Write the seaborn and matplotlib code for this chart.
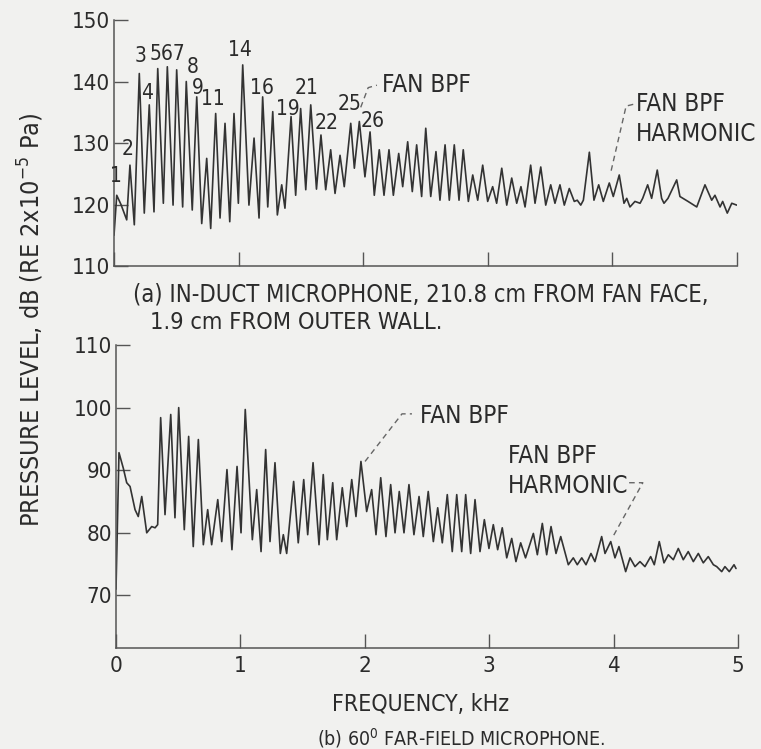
import matplotlib
matplotlib.use("Agg")
import matplotlib.pyplot as plt
import seaborn as sns
import pandas as pd

# ---------------- data ----------------
# (a) in-duct microphone: frequency (kHz) and level (dB)
freq_a = [0.000, 0.022, 0.056, 0.102, 0.128, 0.163, 0.203, 0.243, 0.283, 0.321,
          0.351, 0.396, 0.428, 0.474, 0.503, 0.551, 0.580, 0.628, 0.664, 0.704,
          0.744, 0.776, 0.816, 0.851, 0.891, 0.929, 0.963, 0.998, 1.033, 1.083,
          1.124, 1.164, 1.193, 1.234, 1.274, 1.311, 1.346, 1.372, 1.421, 1.458,
          1.498, 1.539, 1.579, 1.625, 1.661, 1.699, 1.739, 1.774, 1.814, 1.848,
          1.900, 1.929, 1.969, 2.014, 2.055, 2.089, 2.129, 2.167, 2.207, 2.242,
          2.285, 2.317, 2.357, 2.394, 2.429, 2.469, 2.502, 2.542, 2.584, 2.616,
          2.657, 2.691, 2.731, 2.769, 2.803, 2.844, 2.879, 2.919, 2.959, 2.999,
          3.039, 3.071, 3.112, 3.152, 3.192, 3.232, 3.266, 3.299, 3.344, 3.379,
          3.425, 3.465, 3.505, 3.539, 3.579, 3.614, 3.654, 3.694, 3.718, 3.746,
          3.767, 3.815, 3.852, 3.890, 3.927, 3.975, 4.007, 4.055, 4.093, 4.115,
          4.141, 4.181, 4.222, 4.243, 4.283, 4.315, 4.360, 4.395, 4.414, 4.446,
          4.516, 4.542, 4.607, 4.677, 4.743, 4.797, 4.823, 4.864, 4.885, 4.922,
          4.958, 4.998]
level_a = [115.0, 121.5, 120.0, 117.5, 126.4, 116.7, 141.3, 118.6, 136.2, 118.8,
           142.1, 120.2, 142.4, 119.9, 141.9, 119.6, 140.0, 119.1, 137.5, 116.9,
           127.5, 116.1, 134.8, 117.8, 133.2, 117.2, 134.8, 120.2, 142.7, 119.9,
           130.8, 117.8, 137.5, 119.6, 135.1, 118.3, 123.2, 119.4, 134.3, 121.5,
           135.6, 122.4, 136.2, 122.5, 131.3, 122.4, 128.9, 121.8, 128.0, 122.9,
           133.2, 125.9, 133.5, 124.5, 131.8, 121.5, 128.9, 121.5, 128.9, 121.5,
           128.3, 122.9, 130.2, 122.1, 129.7, 121.3, 132.4, 121.3, 128.6, 120.7,
           129.7, 120.7, 129.7, 120.7, 128.9, 120.5, 124.8, 120.7, 126.4, 120.5,
           122.9, 120.2, 125.9, 119.9, 124.3, 120.2, 122.9, 119.6, 126.4, 120.2,
           126.1, 119.9, 123.2, 120.2, 123.2, 119.9, 122.6, 120.5, 120.7, 119.9,
           120.7, 128.5, 120.7, 123.2, 120.5, 123.5, 121.3, 124.8, 120.2, 121.0,
           119.6, 120.5, 120.2, 121.0, 123.2, 121.0, 125.6, 121.0, 120.2, 121.0,
           124.0, 121.3, 120.5, 119.6, 123.2, 120.7, 121.5, 119.6, 120.5, 118.6,
           120.2, 119.9]

# (b) 60 deg far-field microphone
freq_b = [0.000, 0.024, 0.059, 0.086, 0.113, 0.153, 0.179, 0.207, 0.247, 0.287,
          0.314, 0.335, 0.359, 0.394, 0.440, 0.474, 0.504, 0.549, 0.584, 0.621,
          0.662, 0.702, 0.737, 0.769, 0.818, 0.850, 0.892, 0.932, 0.973, 1.005,
          1.039, 1.096, 1.131, 1.166, 1.203, 1.238, 1.278, 1.321, 1.345, 1.372,
          1.428, 1.465, 1.509, 1.541, 1.584, 1.632, 1.666, 1.699, 1.742, 1.774,
          1.819, 1.855, 1.895, 1.929, 1.969, 2.015, 2.055, 2.090, 2.128, 2.170,
          2.208, 2.243, 2.277, 2.315, 2.355, 2.395, 2.436, 2.470, 2.510, 2.551,
          2.586, 2.623, 2.663, 2.703, 2.739, 2.779, 2.811, 2.851, 2.886, 2.926,
          2.961, 2.998, 3.033, 3.068, 3.105, 3.141, 3.181, 3.215, 3.253, 3.292,
          3.355, 3.387, 3.427, 3.462, 3.497, 3.537, 3.575, 3.636, 3.676, 3.708,
          3.744, 3.778, 3.818, 3.850, 3.904, 3.931, 3.977, 4.011, 4.043, 4.097,
          4.132, 4.172, 4.212, 4.252, 4.298, 4.327, 4.367, 4.405, 4.440, 4.480,
          4.520, 4.560, 4.600, 4.641, 4.681, 4.721, 4.761, 4.802, 4.829, 4.869,
          4.895, 4.930, 4.968, 4.984]
level_b = [71.0, 92.8, 90.3, 88.0, 87.4, 83.7, 82.6, 85.8, 80.0, 81.0,
           80.8, 81.3, 98.4, 82.9, 98.9, 82.4, 100.0, 80.5, 95.4, 77.8,
           94.9, 78.1, 83.7, 78.1, 85.3, 78.6, 90.1, 77.3, 90.6, 80.0,
           99.7, 78.9, 86.9, 77.0, 93.3, 78.6, 91.2, 76.7, 79.7, 76.7,
           88.2, 78.4, 88.5, 79.7, 91.2, 78.1, 89.3, 78.9, 88.0, 78.9,
           87.2, 81.0, 88.5, 82.6, 91.4, 83.4, 86.9, 79.7, 88.8, 79.4,
           87.7, 80.0, 86.6, 80.0, 87.7, 79.7, 85.8, 79.4, 86.6, 78.6,
           84.0, 78.4, 86.1, 77.0, 86.1, 77.0, 86.1, 76.7, 85.3, 77.0,
           82.1, 77.5, 81.3, 77.3, 80.8, 76.0, 79.1, 75.4, 78.4, 76.0,
           79.9, 76.5, 81.5, 76.5, 81.0, 76.7, 79.4, 74.9, 76.0, 74.9,
           76.0, 74.9, 76.7, 75.4, 79.4, 76.7, 78.6, 76.0, 77.8, 73.8,
           76.0, 74.6, 75.4, 74.6, 76.2, 74.9, 78.6, 75.2, 76.5, 75.7,
           77.5, 75.7, 77.0, 75.4, 76.7, 75.2, 76.2, 74.9, 74.6, 73.8,
           74.6, 73.8, 74.9, 74.3]

# peak order labels in panel (a): text, centre x (kHz), centre y (dB)
order_labels = ["1", "2", "3", "567", "4", "8", "9", "11",
                "14", "16", "19", "21", "22", "25", "26"]
order_x = [0.016, 0.112, 0.215, 0.425, 0.265, 0.630, 0.672, 0.795,
           1.011, 1.188, 1.396, 1.549, 1.709, 1.894, 2.079]
order_y = [124.6, 129.1, 144.1, 144.4, 138.1, 142.4, 139.0, 137.1,
           145.1, 139.0, 135.6, 139.0, 133.3, 136.3, 133.5]

x_ticks = [0, 1, 2, 3, 4, 5]
y_ticks_a = [110, 120, 130, 140, 150]
y_ticks_b = [70, 80, 90, 100, 110]

# ---------------- style ----------------
sns.set_style("ticks")
plt.rcParams["font.family"] = ["DejaVu Sans"]
plt.rcParams["font.stretch"] = "condensed"
plt.rcParams["mathtext.default"] = "regular"
BG = "#f1f1ef"
INK = "#2b2b2b"
plt.rcParams.update({
    "axes.edgecolor": "#555555",
    "axes.linewidth": 1.1,
    "xtick.color": "#555555",
    "ytick.color": "#555555",
    "xtick.labelcolor": INK,
    "ytick.labelcolor": INK,
    "text.color": INK,
})

W, H = 761, 749
fig = plt.figure(figsize=(W / 100, H / 100), dpi=100, facecolor=BG)

def px_axes(x0, x1, ytop, ybot):
    return fig.add_axes([x0 / W, 1 - ybot / H, (x1 - x0) / W, (ybot - ytop) / H])

ax_a = px_axes(114, 737, 20, 266)
ax_b = px_axes(116, 738, 345, 648)

df_a = pd.DataFrame({"f": freq_a, "L": level_a})
df_b = pd.DataFrame({"f": freq_b, "L": level_b})
sns.lineplot(data=df_a, x="f", y="L", ax=ax_a, sort=False, estimator=None,
             color="#333333", lw=1.2)
sns.lineplot(data=df_b, x="f", y="L", ax=ax_b, sort=False, estimator=None,
             color="#333333", lw=1.2)

for ax in (ax_a, ax_b):
    ax.set_facecolor(BG)
    ax.set_xlim(0, 5)
    ax.set_xticks(x_ticks)
    ax.set_xlabel("")
    ax.set_ylabel("")
    sns.despine(ax=ax)
    ax.tick_params(direction="in", length=10, width=1.0, labelsize=16, pad=3)

ax_a.set_ylim(110, 150)
ax_a.set_yticks(y_ticks_a)
ax_a.tick_params(axis="x", labelbottom=False)
ax_b.set_ylim(61.6, 110)
ax_b.set_yticks(y_ticks_b)
ax_b.tick_params(axis="x", pad=6)

# peak order numbers
for t, x, y in zip(order_labels, order_x, order_y):
    ax_a.text(x, y, t, fontsize=15, ha="center", va="center", color=INK)

ANN = 17.5
# annotations, panel (a)
dash = dict(color="#666666", lw=1.0, ls=(0, (4, 3)))
ax_a.plot([1.980, 2.040, 2.110], [135.8, 139.0, 139.4], **dash)
ax_a.text(2.15, 139.4, "FAN BPF", fontsize=ANN, va="center", ha="left")
ax_a.plot([3.990, 4.110, 4.170], [125.5, 136.0, 136.3], **dash)
ax_a.text(4.19, 136.3, "FAN BPF", fontsize=ANN, va="center", ha="left")
ax_a.text(4.19, 131.5, "HARMONIC", fontsize=ANN, va="center", ha="left")

# annotations, panel (b)
ax_b.plot([2.002, 2.299, 2.379], [91.4, 99.0, 99.0], **dash)
ax_b.text(2.44, 98.6, "FAN BPF", fontsize=ANN, va="center", ha="left")
ax_b.text(3.15, 92.2, "FAN BPF", fontsize=ANN, va="center", ha="left")
ax_b.text(3.15, 87.4, "HARMONIC", fontsize=ANN, va="center", ha="left")
ax_b.plot([4.125, 4.235, 3.995], [88.0, 88.0, 79.4], **dash)

# captions
fig.text(133 / W, 1 - 294 / H, "(a) IN-DUCT MICROPHONE, 210.8 cm FROM FAN FACE,",
         fontsize=17, ha="left", va="center")
fig.text(150 / W, 1 - 322 / H, "1.9 cm FROM OUTER WALL.",
         fontsize=16.9, ha="left", va="center")
fig.text(31 / W, 1 - 320 / H, "PRESSURE LEVEL, dB (RE 2x10$^{-5}$ Pa)",
         fontsize=18, rotation=90, ha="center", va="center")
fig.text(421 / W, 1 - 705 / H, "FREQUENCY, kHz", fontsize=16.6, ha="center", va="center")
fig.text(461 / W, 1 - 738 / H, "(b) 60$^{0}$ FAR-FIELD MICROPHONE.", fontsize=14,
         ha="center", va="center")

fig.savefig("out.png", dpi=100, facecolor=BG)
